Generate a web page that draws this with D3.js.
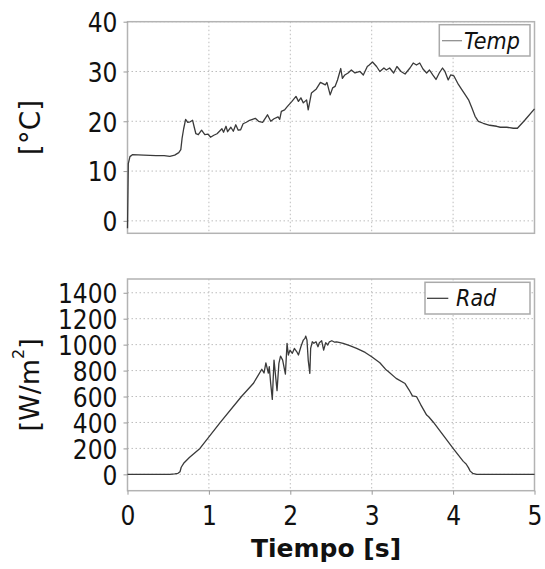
<!DOCTYPE html>
<html>
<head>
<meta charset="utf-8">
<script src="https://cdn.jsdelivr.net/npm/d3@7"></script>
<style>
  html, body { margin: 0; padding: 0; background: #fff; }
  svg { display: block; }
  text { font-family: "DejaVu Sans", Verdana, sans-serif; fill: #111; }
  .cond { font-family: "DejaVu Sans Condensed", "DejaVu Sans", sans-serif; font-stretch: condensed; }
</style>
</head>
<body>
<svg id="chart" width="545" height="569"></svg>
<script>
// ---- Data ----
const tTemp = [0,0.005,0.01,0.03,0.06,0.2,0.35,0.45,0.52,0.58,0.63,0.655,0.67,0.69,0.714,0.74,0.77,0.8,0.82,0.84,0.87,0.91,0.95,0.99,1.02,1.06,1.1,1.16,1.18,1.21,1.23,1.27,1.3,1.33,1.36,1.39,1.42,1.46,1.5,1.57,1.61,1.66,1.7,1.72,1.76,1.8,1.85,1.87,1.89,1.93,1.96,2.02,2.07,2.1,2.13,2.16,2.2,2.22,2.26,2.32,2.37,2.43,2.45,2.49,2.52,2.55,2.58,2.62,2.64,2.67,2.71,2.75,2.795,2.856,2.897,2.946,2.97,3.01,3.06,3.1,3.15,3.18,3.22,3.27,3.31,3.36,3.41,3.47,3.51,3.55,3.59,3.63,3.675,3.71,3.75,3.79,3.83,3.87,3.9,3.94,3.97,4.01,4.065,4.105,4.15,4.19,4.23,4.27,4.31,4.37,4.45,4.535,4.58,4.66,4.74,4.79,4.88,5.0];
const temp = [-1.5,5,11.5,12.9,13.3,13.2,13.1,13.1,12.95,13.2,13.7,14.3,16.5,18.5,20.4,19.8,19.9,20.2,18.8,17.5,17.3,18.2,17.3,17.4,16.8,17.2,17.5,18.5,17.8,19.0,17.9,18.8,18.0,19.3,18.2,18.3,19.5,19.8,20.2,20.6,20.0,19.8,20.8,21.3,20.0,20.5,20.9,20.4,22.0,22.3,22.9,24.0,25.0,24.0,24.7,23.7,24.3,22.3,25.7,26.5,27.8,27.3,27.8,25.3,26.7,27.0,28.3,30.6,28.6,29.3,29.7,30.3,29.7,30.0,29.3,31.0,31.3,31.9,31.0,30.0,30.7,30.3,30.7,29.7,31.0,30.0,29.5,30.7,31.7,31.3,31.7,30.5,29.7,30.3,29.3,28.4,29.7,30.7,30.0,28.3,29.3,29.1,27.4,26.4,25.3,24.3,22.7,21.0,20.0,19.6,19.2,19.0,18.8,18.8,18.6,18.6,20.2,22.5];

const tRad = [0,0.52,0.58,0.62,0.645,0.66,0.69,0.76,0.89,1.14,1.4,1.545,1.607,1.65,1.677,1.7,1.73,1.742,1.759,1.779,1.8,1.82,1.837,1.86,1.88,1.906,1.93,1.94,1.96,1.976,1.996,2.025,2.05,2.08,2.1,2.13,2.16,2.18,2.19,2.205,2.22,2.24,2.25,2.27,2.29,2.316,2.34,2.357,2.385,2.41,2.435,2.46,2.48,2.51,2.54,2.57,2.65,2.73,2.815,2.92,3.0,3.1,3.18,3.2,3.3,3.41,3.46,3.5,3.55,3.6,3.675,3.7,3.76,3.88,4.0,4.125,4.16,4.19,4.21,4.24,4.29,5.0];
const rad = [0,0,3,8,20,55,85,130,200,400,600,700,765,810,781,860,781,830,701,578,881,753,645,856,912,881,804,773,1010,920,958,933,971,945,920,984,1035,1048,1066,1035,881,779,971,1022,1010,1022,984,1015,1030,958,1015,997,1022,1030,1020,1022,1010,992,971,940,907,860,804,795,740,700,650,605,600,540,457,444,400,300,200,100,80,50,25,8,0,0];

const xTicks = [0,1,2,3,4,5];
const tempTicks = [0,10,20,30,40];
const radTicks = [0,200,400,600,800,1000,1200,1400];
const tempLabel = "[°C]";
const xLabel = "Tiempo [s]";
const legendTemp = "Temp";
const legendRad = "Rad";

// ---- Layout ----
const svg = d3.select("#chart");
const X0 = 127.5, X1 = 534.5;
const x = d3.scaleLinear().domain([0, 5]).range([X0, X1]);
const yT = d3.scaleLinear().domain([-2.5, 40]).range([233.3, 21.7]);
const yR = d3.scaleLinear().domain([-126, 1506]).range([490.7, 279]);

const gridColor = "#bdbdbd";
const frameColor = "#b3b3b3";
const lineColor = "#3a3a3a";
const fmt = d3.format("d");

function panel(y, yTicks, tTop, tBot) {
  const g = svg.append("g");
  g.selectAll(".gy").data(yTicks).join("line")
    .attr("x1", X0).attr("x2", X1)
    .attr("y1", d => y(d)).attr("y2", d => y(d))
    .attr("stroke", gridColor).attr("stroke-width", 1)
    .attr("stroke-dasharray", "1.5,2.5");
  g.selectAll(".gx").data(xTicks.slice(1, -1)).join("line")
    .attr("x1", d => x(d)).attr("x2", d => x(d))
    .attr("y1", tTop).attr("y2", tBot)
    .attr("stroke", gridColor).attr("stroke-width", 1)
    .attr("stroke-dasharray", "1.5,2.5");
  g.append("rect").attr("x", X0).attr("y", tTop)
    .attr("width", X1 - X0).attr("height", tBot - tTop)
    .attr("fill", "none").attr("stroke", frameColor).attr("stroke-width", 1.5);
  const ax = g.append("g").attr("transform", `translate(${X0},0)`)
    .call(d3.axisLeft(y).tickValues(yTicks).tickFormat(fmt).tickSize(4).tickPadding(6));
  ax.select(".domain").remove();
  ax.selectAll(".tick line").attr("stroke", "#999");
  ax.selectAll(".tick text").attr("class", "cond").attr("font-size", 26)
    .attr("font-family", null).attr("fill", "#111").attr("dy", "0.38em");
  return g;
}

panel(yT, tempTicks, yT(40), yT(-2.5));
panel(yR, radTicks, yR(1506), yR(-126));

const xa = svg.append("g").attr("transform", `translate(0,${yR(-126)})`)
  .call(d3.axisBottom(x).tickValues(xTicks).tickFormat(fmt).tickSize(4).tickPadding(12));
xa.select(".domain").remove();
xa.attr("font-family", null);
xa.selectAll(".tick line").attr("stroke", "#999");
xa.selectAll(".tick text").attr("class", "cond").attr("font-size", 26)
  .attr("fill", "#111");
svg.selectAll("g").attr("font-family", null);

const lineT = d3.line().x((d, i) => x(tTemp[i])).y(d => yT(d));
svg.append("path").datum(temp).attr("d", lineT)
  .attr("fill", "none").attr("stroke", lineColor).attr("stroke-width", 1.3)
  .attr("stroke-linejoin", "round");
const lineR = d3.line().x((d, i) => x(tRad[i])).y(d => yR(d));
svg.append("path").datum(rad).attr("d", lineR)
  .attr("fill", "none").attr("stroke", lineColor).attr("stroke-width", 1.3)
  .attr("stroke-linejoin", "round");

function legend(bx, by, bw, bh, lineX1, lineX2, ly, lcol, tx, ty, label) {
  const g = svg.append("g");
  g.append("rect").attr("x", bx).attr("y", by).attr("width", bw).attr("height", bh)
    .attr("fill", "#fff").attr("stroke", "#aaa").attr("stroke-width", 1.5);
  g.append("line").attr("x1", lineX1).attr("x2", lineX2).attr("y1", ly).attr("y2", ly)
    .attr("stroke", lcol).attr("stroke-width", 1.2);
  g.append("text").attr("class", "cond").attr("x", tx).attr("y", ty).attr("font-size", 23)
    .attr("font-style", "italic").text(label);
}
legend(439.3, 24.7, 90.7, 31.3, 442, 462, 40.7, "#888", 464, 48.5, legendTemp);
legend(425, 282.3, 105, 31.7, 427, 448.3, 298.3, "#333", 456, 305.5, legendRad);

svg.append("text").attr("transform", `translate(40,${(yT(40) + yT(-2.5)) / 2}) rotate(-90)`)
  .attr("text-anchor", "middle").attr("font-size", 28).text(tempLabel);

const wt = svg.append("text").attr("transform", `translate(39,${(yR(1506) + yR(-126)) / 2}) rotate(-90)`)
  .attr("text-anchor", "middle").attr("font-size", 27);
wt.append("tspan").text("[W/m");
wt.append("tspan").attr("font-size", 16).attr("dy", -15).text("2");
wt.append("tspan").attr("dy", 15).text("]");

svg.append("text").attr("x", 326).attr("y", 557)
  .attr("text-anchor", "middle").attr("font-size", 25).attr("font-weight", "bold")
  .text(xLabel);
</script>
</body>
</html>
